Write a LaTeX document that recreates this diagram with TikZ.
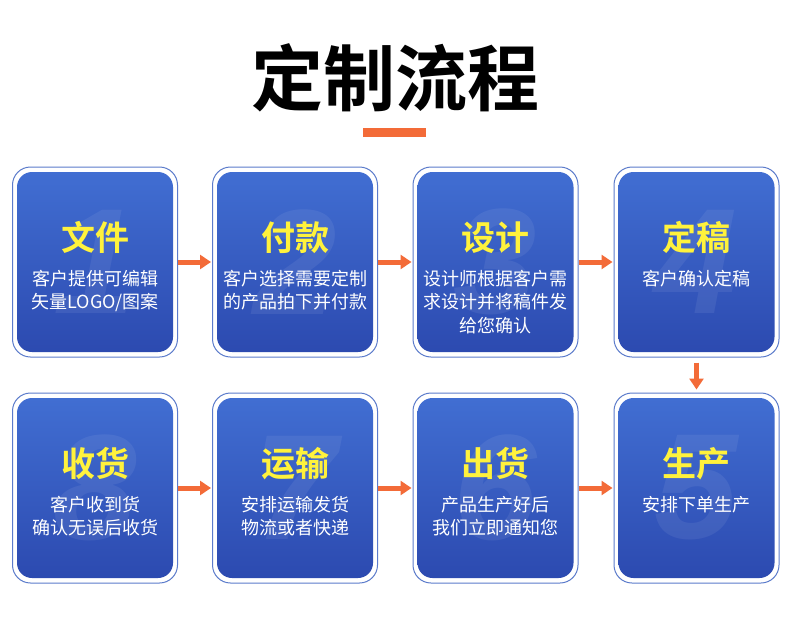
\documentclass[tikz,border=0pt]{standalone}
\usepackage{fontspec}
\setmainfont{Liberation Sans}
\newfontfamily\cjk{Noto Sans CJK SC}
\newfontfamily\cjkbold{Noto Sans CJK SC Bold}
\usetikzlibrary{arrows.meta}
\definecolor{bordc}{HTML}{5B7BCB}
\definecolor{boxtop}{HTML}{416ED2}
\definecolor{boxbot}{HTML}{2C4AB0}
\definecolor{ttlc}{HTML}{FFF23C}
\definecolor{orng}{HTML}{F36B38}
\tikzset{
  outerbox/.style={draw=bordc, line width=1pt, fill=white, rounded corners=18pt,
    minimum width=165pt, minimum height=190pt, inner sep=0pt},
  innerbox/.style={rounded corners=15pt, top color=boxtop, bottom color=boxbot,
    minimum width=156pt, minimum height=180pt, inner sep=0pt},
  bignum/.style={font=\fontsize{150}{150}\selectfont\bfseries\itshape, text=white,
    text opacity=0.07, inner sep=0pt},
  boxtitle/.style={font=\cjkbold\fontsize{34}{34}\selectfont, text=ttlc, inner sep=0pt, anchor=base},
  boxdesc/.style={font=\cjk\fontsize{18}{23.5}\selectfont, text=white, inner sep=0pt,
    align=center, anchor=north},
  flowarrow/.style={draw=orng, line width=5pt, -{Triangle[width=14pt,length=11pt]}},
}
\newcommand\flowbox[6]{%
  \node[outerbox] (#1) at (#2,#3) {};
  \node[innerbox] (#1i) at (#1.center) {};
  \node[bignum] (#1n) at (#1.center) {#4};
  \node[boxtitle] (#1t) at ([yshift=12pt]#1.center) {#5};
  \node[boxdesc] (#1d) at ([yshift=-5pt]#1.center) {\rule{0pt}{18pt}#6};
}
\begin{document}
\begin{tikzpicture}[x=1pt,y=-1pt]
\useasboundingbox[fill=white] (0,0) rectangle (790,616);
\node[font=\cjkbold\fontsize{72}{72}\selectfont, text=black, inner sep=0pt, anchor=base] (title) at (395,105) {定制流程};
\path[fill=orng] (363,128) rectangle (426,137);
\flowbox{b1}{95}{262}{1}{文件}{客户提供可编辑\\矢量LOGO/图案}
\flowbox{b2}{295}{262}{2}{付款}{客户选择需要定制\\的产品拍下并付款}
\flowbox{b3}{495.5}{262}{3}{设计}{设计师根据客户需\\求设计并将稿件发\\给您确认}
\flowbox{b4}{696.5}{262}{4}{定稿}{客户确认定稿}
\flowbox{b8}{95}{488}{8}{收货}{客户收到货\\确认无误后收货}
\flowbox{b7}{295}{488}{7}{运输}{安排运输发货\\物流或者快递}
\flowbox{b6}{495.5}{488}{6}{出货}{产品生产好后\\我们立即通知您}
\flowbox{b5}{696.5}{488}{5}{生产}{安排下单生产}
\draw[flowarrow, shorten >=1pt] (b1.east) -- (b2.west);
\draw[flowarrow, shorten >=1pt] (b2.east) -- (b3.west);
\draw[flowarrow, shorten >=1pt] (b3.east) -- (b4.west);
\draw[flowarrow, shorten >=1pt] (b8.east) -- (b7.west);
\draw[flowarrow, shorten >=1pt] (b7.east) -- (b6.west);
\draw[flowarrow, shorten >=1pt] (b6.east) -- (b5.west);
\draw[flowarrow, shorten <=5pt, shorten >=3pt] (b4.south) -- (b5.north);
\end{tikzpicture}
\end{document}
